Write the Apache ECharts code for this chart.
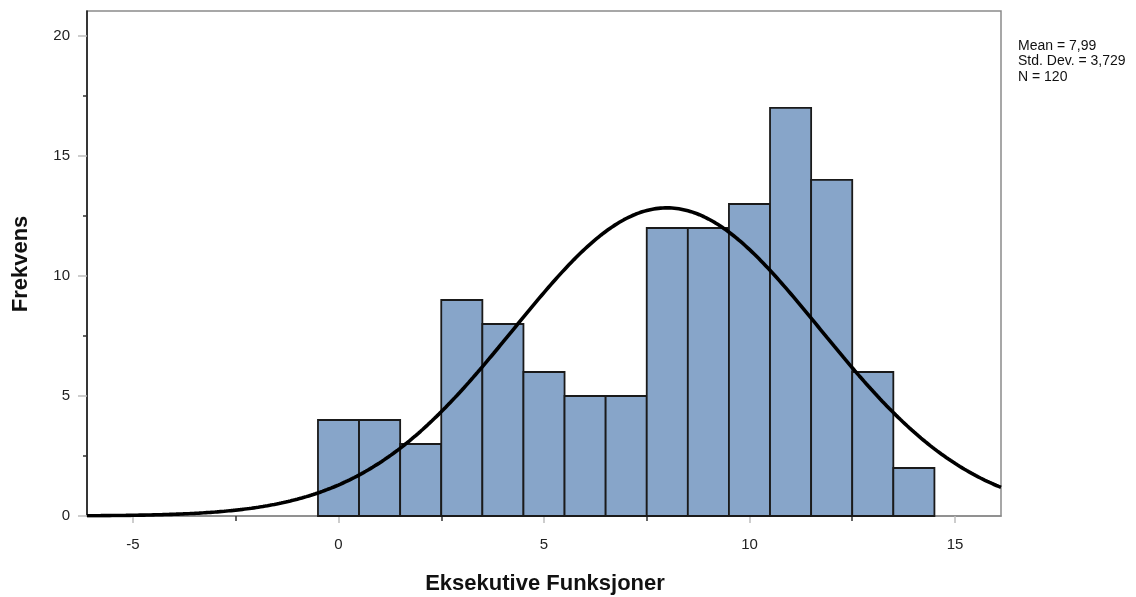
<!DOCTYPE html>
<html>
<head>
<meta charset="utf-8">
<script src="https://cdn.jsdelivr.net/npm/echarts@6/dist/echarts.min.js"></script>
<style>
html,body{margin:0;padding:0;background:#fff;}
#chart{width:1136px;height:597px;}
</style>
</head>
<body>
<div id="chart"></div>
<script>
// Histogram bins (centre of bin, width 1)
const binCenters = [0, 1, 2, 3, 4, 5, 6, 7, 8, 9, 10, 11, 12, 13, 14];
const frequencies = [4, 4, 3, 9, 8, 6, 5, 5, 12, 12, 13, 17, 14, 6, 2];
const binWidth = 1;

// Summary statistics shown on the chart (the fitted normal curve uses these)
const MEAN = 7.99;
const SD = 3.729;
const N = 120;

// Tick labels
const xMajorTicks = [-5, 0, 5, 10, 15];
const xMinorTicks = [-2.5, 2.5, 7.5, 12.5];
const yMajorTicks = [0, 5, 10, 15, 20];
const yMinorTicks = [2.5, 7.5, 12.5, 17.5];
const statsLines = ['Mean = 7,99', 'Std. Dev. = 3,729', 'N = 120'];
const xTitle = 'Eksekutive Funksjoner';
const yTitle = 'Frekvens';

const X_MIN = -6.12, X_MAX = 16.12, Y_MIN = 0, Y_MAX = 21.04;

// Fitted normal curve (expected frequency per bin)
const curve = [];
for (let i = 0; i <= 400; i++) {
  const x = X_MIN + (X_MAX - X_MIN) * i / 400;
  const z = (x - MEAN) / SD;
  curve.push([x, N * binWidth * Math.exp(-0.5 * z * z) / (SD * Math.sqrt(2 * Math.PI))]);
}

const barData = binCenters.map((c, i) => [c, frequencies[i]]);

const chart = echarts.init(document.getElementById('chart'), null, {renderer: 'canvas'});
const labelFont = {fontFamily: 'Liberation Sans, Arial, sans-serif', fontSize: 15, color: '#222'};

chart.setOption({
  animation: false,
  backgroundColor: '#fff',
  grid: {left: 87, right: 135, top: 11, bottom: 81, show: true, borderColor: '#8a8a8a', borderWidth: 1.5, backgroundColor: 'transparent'},
  xAxis: [
    {
      type: 'value', min: X_MIN, max: X_MAX, position: 'bottom',
      axisLine: {show: true, onZero: false, lineStyle: {color: '#8a8a8a', width: 1.5}},
      axisTick: {show: true, customValues: xMajorTicks, length: 7, lineStyle: {color: '#bdbdbd', width: 1.5}},
      axisLabel: Object.assign({show: true, customValues: xMajorTicks, margin: 21}, labelFont),
      splitLine: {show: false}
    },
    {
      type: 'value', min: X_MIN, max: X_MAX, position: 'bottom',
      axisLine: {show: false, onZero: false},
      axisTick: {show: true, customValues: xMinorTicks, length: 5, lineStyle: {color: '#333', width: 1.5}},
      axisLabel: {show: false},
      splitLine: {show: false}
    }
  ],
  yAxis: [
    {
      type: 'value', min: Y_MIN, max: Y_MAX, position: 'left',
      axisLine: {show: true, onZero: false, lineStyle: {color: '#111', width: 1.5}},
      axisTick: {show: true, customValues: yMajorTicks, length: 9, lineStyle: {color: '#bdbdbd', width: 1.5}},
      axisLabel: Object.assign({show: true, customValues: yMajorTicks, margin: 17}, labelFont),
      splitLine: {show: false}
    },
    {
      type: 'value', min: Y_MIN, max: Y_MAX, position: 'left',
      axisLine: {show: false, onZero: false},
      axisTick: {show: true, customValues: yMinorTicks, length: 4, lineStyle: {color: '#333', width: 1.5}},
      axisLabel: {show: false},
      splitLine: {show: false}
    }
  ],
  series: [
    {
      type: 'custom',
      xAxisIndex: 0, yAxisIndex: 0,
      z: 2,
      data: barData,
      renderItem: function (params, api) {
        const c = api.value(0), v = api.value(1);
        const p0 = api.coord([c - binWidth / 2, v]);
        const p1 = api.coord([c + binWidth / 2, 0]);
        return {
          type: 'rect',
          shape: {x: p0[0], y: p0[1], width: p1[0] - p0[0], height: p1[1] - p0[1]},
          style: {fill: '#87a5c9', stroke: '#1a1a1a', lineWidth: 1.8}
        };
      }
    },
    {
      type: 'line',
      xAxisIndex: 0, yAxisIndex: 0,
      z: 3,
      data: curve,
      showSymbol: false,
      smooth: false,
      lineStyle: {color: '#000', width: 3.6},
      clip: true
    }
  ],
  graphic: [
    {
      type: 'text', left: 1018, top: 38, z: 10,
      style: {text: statsLines.join('\n'), fontFamily: 'Liberation Sans, Arial, sans-serif', fontSize: 14, lineHeight: 15.7, fill: '#111'}
    },
    {
      type: 'text', x: 545, y: 584, z: 10,
      style: {text: xTitle, fontFamily: 'Liberation Sans, Arial, sans-serif', fontWeight: 'bold', fontSize: 22, fill: '#111', align: 'center', verticalAlign: 'middle'}
    },
    {
      type: 'text', x: 21, y: 264, rotation: Math.PI / 2, z: 10,
      style: {text: yTitle, fontFamily: 'Liberation Sans, Arial, sans-serif', fontWeight: 'bold', fontSize: 22, fill: '#111', align: 'center', verticalAlign: 'middle'}
    }
  ]
});
</script>
</body>
</html>
